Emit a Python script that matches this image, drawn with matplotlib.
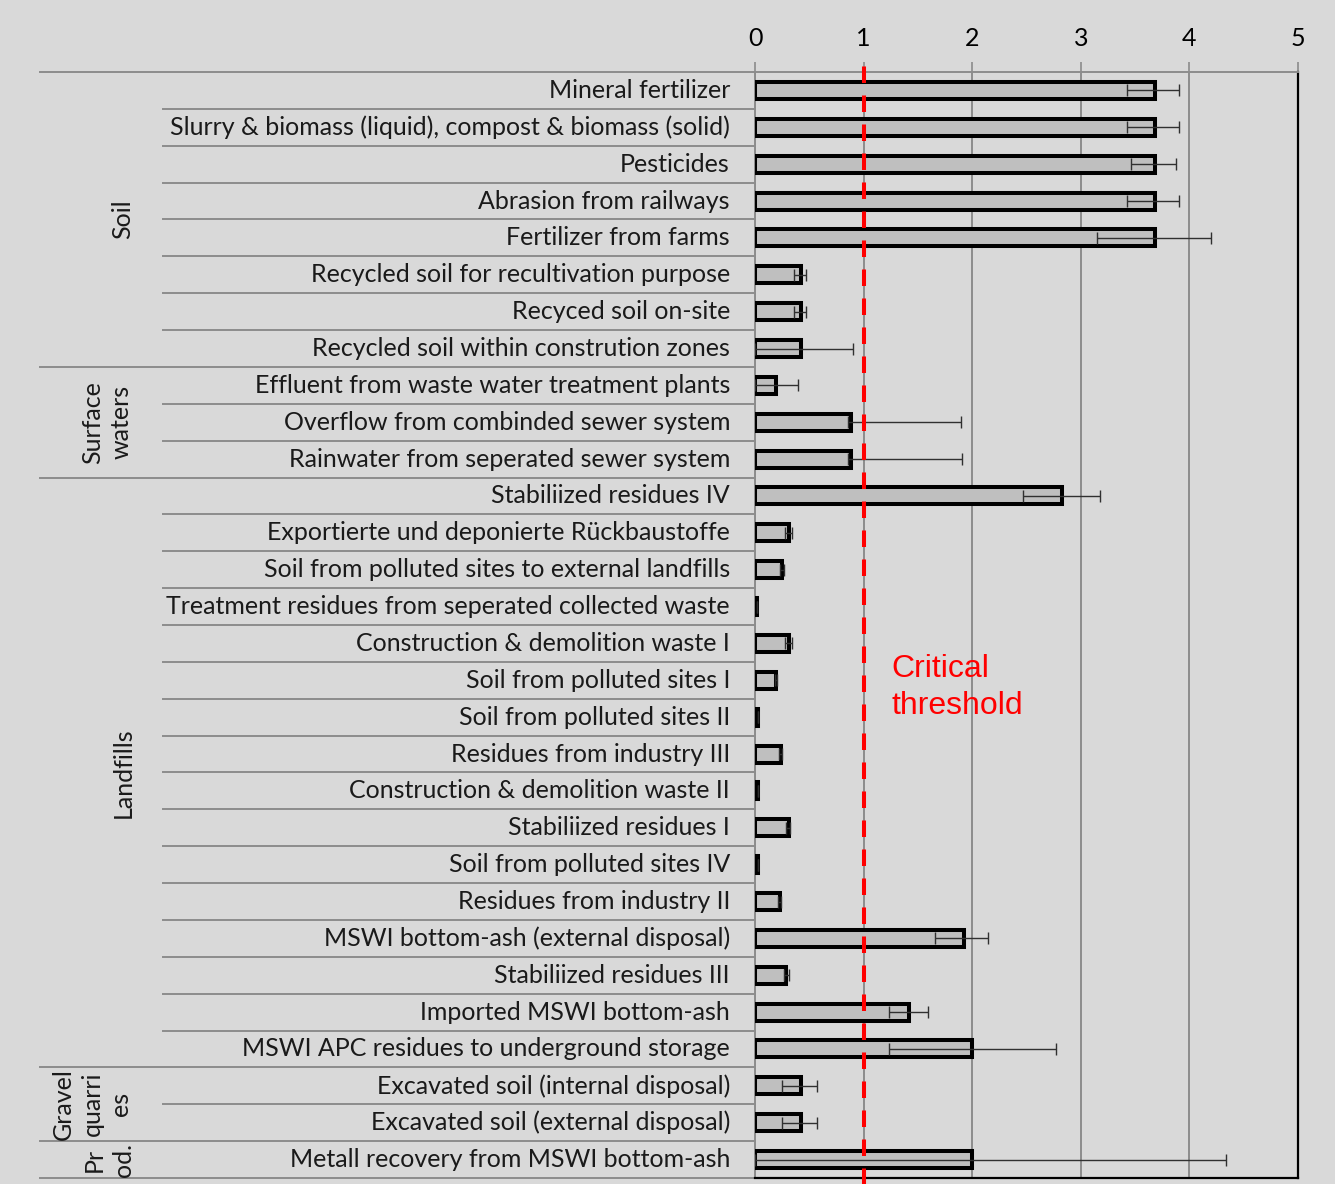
import matplotlib.pyplot as plt
import matplotlib.transforms as mtransforms
import numpy as np

labels = [
    "Mineral fertilizer",
    "Slurry & biomass (liquid), compost & biomass (solid)",
    "Pesticides",
    "Abrasion from railways",
    "Fertilizer from farms",
    "Recycled soil for recultivation purpose",
    "Recyced soil on-site",
    "Recycled soil within constrution zones",
    "Effluent from waste water treatment plants",
    "Overflow from combinded sewer system",
    "Rainwater from seperated sewer system",
    "Stabiliized residues IV",
    "Exportierte und deponierte Rückbaustoffe",
    "Soil from polluted sites to external landfills",
    "Treatment residues from seperated collected waste",
    "Construction & demolition waste I",
    "Soil from polluted sites I",
    "Soil from polluted sites II",
    "Residues from industry III",
    "Construction & demolition waste II",
    "Stabiliized residues I",
    "Soil from polluted sites IV",
    "Residues from industry II",
    "MSWI bottom-ash (external disposal)",
    "Stabiliized residues III",
    "Imported MSWI bottom-ash",
    "MSWI APC residues to underground storage",
    "Excavated soil (internal disposal)",
    "Excavated soil (external disposal)",
    "Metall recovery from MSWI bottom-ash",
]

values = [3.68, 3.68, 3.68, 3.68, 3.68, 0.42, 0.42, 0.42, 0.19, 0.88,
          0.88, 2.83, 0.31, 0.25, 0.02, 0.31, 0.19, 0.03, 0.24, 0.03,
          0.31, 0.03, 0.23, 1.92, 0.29, 1.42, 2.00, 0.42, 0.42, 2.00]
lower = [3.43, 3.43, 3.46, 3.43, 3.15, 0.36, 0.36, 0.0, 0.0, 0.86,
         0.86, 2.47, 0.28, 0.23, 0.02, 0.28, 0.18, 0.03, 0.22, 0.03,
         0.29, 0.03, 0.21, 1.66, 0.27, 1.23, 1.23, 0.25, 0.25, 0.0]
upper = [3.90, 3.90, 3.88, 3.90, 4.20, 0.47, 0.47, 0.90, 0.40, 1.90,
         1.91, 3.18, 0.34, 0.27, 0.02, 0.34, 0.20, 0.03, 0.25, 0.03,
         0.32, 0.03, 0.24, 2.15, 0.31, 1.59, 2.77, 0.57, 0.57, 4.34]

# groups: (text, first row, last row, x-centre in px)
groups = [
    ("Soil", 0, 7, 123),
    ("Surface\nwaters", 8, 10, 107),
    ("Landfills", 11, 26, 123),
    ("Gravel\nquarri\nes", 27, 28, 92),
    ("Pr\nod.", 29, 29, 109),
]
threshold = 1

W, H = 1335, 1184
bg = "#d9d9d9"
grid_c = "#8c8c8c"
font = "Lato"
fs = 18

fig = plt.figure(figsize=(W / 100, H / 100), dpi=100, facecolor=bg)
ax = fig.add_axes([755 / W, 1 - 1178 / H, (1298 - 755) / W, (1178 - 72) / H])
ax.set_facecolor(bg)

n = len(labels)
y = np.arange(n)
values = np.array(values)
lower = np.array(lower)
upper = np.array(upper)

ax.barh(y, values, height=0.46, color="#bfbfbf", edgecolor="black",
        linewidth=2.9, zorder=3)
ax.errorbar(values, y, xerr=[values - lower, upper - values], fmt="none",
            ecolor="#303030", elinewidth=1.0, capsize=4.5, capthick=1.0,
            zorder=4)

ax.set_xlim(0, 5)
ax.set_ylim(n - 0.5, -0.5)
ax.set_yticks([])
ax.xaxis.tick_top()
ax.set_xticks(range(6))
ax.tick_params(axis="x", length=7, width=1.2, color=grid_c, pad=9,
               labelsize=fs)
for t in ax.get_xticklabels():
    t.set_family(font)
ax.grid(axis="x", color=grid_c, linewidth=1.4, zorder=0)
ax.set_axisbelow(True)

ax.spines["top"].set_color(grid_c)
ax.spines["top"].set_linewidth(1.4)
ax.spines["left"].set_color(grid_c)
ax.spines["left"].set_linewidth(1.4)
ax.spines["right"].set_color("black")
ax.spines["right"].set_linewidth(1.6)
ax.spines["bottom"].set_color("black")
ax.spines["bottom"].set_linewidth(1.6)

# critical threshold
ax.axvline(threshold, ymin=-0.01, ymax=1.01, color="red", linewidth=2.9,
           dashes=(4.1, 3.1), clip_on=False, zorder=5)
ax.text(1.255, 16.2, "Critical\nthreshold", color="red", fontsize=23,
        family="Liberation Sans", va="center", ha="left", linespacing=1.32)

# table-like label area on the left
trans = mtransforms.blended_transform_factory(fig.transFigure, ax.transData)
for i, lab in enumerate(labels):
    ax.text(730 / W, i, lab, transform=trans, ha="right", va="center",
            fontsize=fs, family=font, color="#1a1a1a")

starts = [g[1] for g in groups]
for i in range(n + 1):
    yy = i - 0.5
    x0 = 40 if (i in starts or i == n) else 163
    ax.plot([x0 / W, 755 / W], [yy, yy], transform=trans, color=grid_c,
            linewidth=1.4, clip_on=False, zorder=1)

for text, a, b, xc in groups:
    ax.text(xc / W, (a + b) / 2, text, transform=trans, rotation=90,
            ha="center", va="center", fontsize=fs, family=font,
            color="#1a1a1a", linespacing=1.3)

fig.savefig("out.png", dpi=100, facecolor=bg)
